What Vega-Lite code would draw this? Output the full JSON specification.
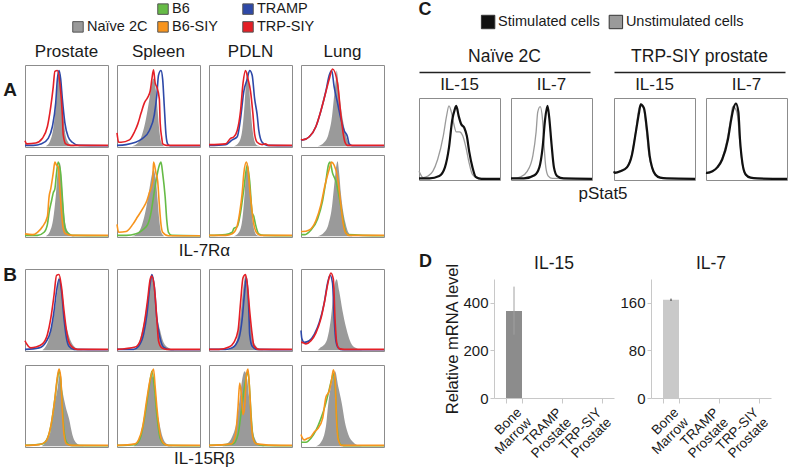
{
"$schema": "https://vega.github.io/schema/vega-lite/v6.json",
"background": "white",
"padding": {"left": 3, "top": 0, "right": 0, "bottom": 0},
"config": {
  "font": "Liberation Sans",
  "view": {"stroke": "#8c8c8c", "strokeWidth": 1},
  "text": {"color": "#1a1a1a"},
  "title": {"font": "Liberation Sans", "fontWeight": "normal", "color": "#1a1a1a", "fontSize": 17},
  "header": {"labelFont": "Liberation Sans", "labelColor": "#1a1a1a", "titleFont": "Liberation Sans"},
  "axis": {"labelFont": "Liberation Sans", "titleFont": "Liberation Sans", "labelColor": "#1a1a1a", "titleColor": "#1a1a1a", "titleFontWeight": "normal"}
},
"datasets": {
"hA": [
{"t":"Prostate","r":1,"s":"Naïve 2C","x":25,"y":0},{"t":"Prostate","r":1,"s":"Naïve 2C","x":30,"y":6},{"t":"Prostate","r":1,"s":"Naïve 2C","x":34,"y":22},{"t":"Prostate","r":1,"s":"Naïve 2C","x":37,"y":50},{"t":"Prostate","r":1,"s":"Naïve 2C","x":40,"y":88},{"t":"Prostate","r":1,"s":"Naïve 2C","x":42,"y":92},{"t":"Prostate","r":1,"s":"Naïve 2C","x":44,"y":72},{"t":"Prostate","r":1,"s":"Naïve 2C","x":46,"y":42},{"t":"Prostate","r":1,"s":"Naïve 2C","x":48,"y":20},{"t":"Prostate","r":1,"s":"Naïve 2C","x":51,"y":7},{"t":"Prostate","r":1,"s":"Naïve 2C","x":55,"y":2},{"t":"Prostate","r":1,"s":"Naïve 2C","x":60,"y":0},
{"t":"Prostate","r":1,"s":"TRAMP","x":0,"y":1},{"t":"Prostate","r":1,"s":"TRAMP","x":10,"y":1},{"t":"Prostate","r":1,"s":"TRAMP","x":20,"y":3},{"t":"Prostate","r":1,"s":"TRAMP","x":28,"y":10},{"t":"Prostate","r":1,"s":"TRAMP","x":33,"y":25},{"t":"Prostate","r":1,"s":"TRAMP","x":37,"y":55},{"t":"Prostate","r":1,"s":"TRAMP","x":39,"y":85},{"t":"Prostate","r":1,"s":"TRAMP","x":41,"y":96},{"t":"Prostate","r":1,"s":"TRAMP","x":43,"y":85},{"t":"Prostate","r":1,"s":"TRAMP","x":45,"y":60},{"t":"Prostate","r":1,"s":"TRAMP","x":48,"y":30},{"t":"Prostate","r":1,"s":"TRAMP","x":52,"y":12},{"t":"Prostate","r":1,"s":"TRAMP","x":57,"y":5},{"t":"Prostate","r":1,"s":"TRAMP","x":65,"y":1},{"t":"Prostate","r":1,"s":"TRAMP","x":100,"y":0.5},
{"t":"Prostate","r":1,"s":"TRP-SIY","x":0,"y":7},{"t":"Prostate","r":1,"s":"TRP-SIY","x":2,"y":3},{"t":"Prostate","r":1,"s":"TRP-SIY","x":13,"y":4},{"t":"Prostate","r":1,"s":"TRP-SIY","x":21,"y":10},{"t":"Prostate","r":1,"s":"TRP-SIY","x":27,"y":25},{"t":"Prostate","r":1,"s":"TRP-SIY","x":31,"y":50},{"t":"Prostate","r":1,"s":"TRP-SIY","x":34,"y":75},{"t":"Prostate","r":1,"s":"TRP-SIY","x":36,"y":95},{"t":"Prostate","r":1,"s":"TRP-SIY","x":39,"y":96},{"t":"Prostate","r":1,"s":"TRP-SIY","x":42,"y":80},{"t":"Prostate","r":1,"s":"TRP-SIY","x":45,"y":40},{"t":"Prostate","r":1,"s":"TRP-SIY","x":46,"y":15},{"t":"Prostate","r":1,"s":"TRP-SIY","x":49,"y":3},{"t":"Prostate","r":1,"s":"TRP-SIY","x":55,"y":1},{"t":"Prostate","r":1,"s":"TRP-SIY","x":100,"y":1},
{"t":"Spleen","r":1,"s":"Naïve 2C","x":18,"y":0},{"t":"Spleen","r":1,"s":"Naïve 2C","x":25,"y":4},{"t":"Spleen","r":1,"s":"Naïve 2C","x":30,"y":14},{"t":"Spleen","r":1,"s":"Naïve 2C","x":35,"y":35},{"t":"Spleen","r":1,"s":"Naïve 2C","x":39,"y":60},{"t":"Spleen","r":1,"s":"Naïve 2C","x":42,"y":80},{"t":"Spleen","r":1,"s":"Naïve 2C","x":44,"y":86},{"t":"Spleen","r":1,"s":"Naïve 2C","x":47,"y":70},{"t":"Spleen","r":1,"s":"Naïve 2C","x":49,"y":45},{"t":"Spleen","r":1,"s":"Naïve 2C","x":51,"y":20},{"t":"Spleen","r":1,"s":"Naïve 2C","x":53,"y":6},{"t":"Spleen","r":1,"s":"Naïve 2C","x":57,"y":0},
{"t":"Spleen","r":1,"s":"TRAMP","x":0,"y":1},{"t":"Spleen","r":1,"s":"TRAMP","x":11,"y":2},{"t":"Spleen","r":1,"s":"TRAMP","x":31,"y":10},{"t":"Spleen","r":1,"s":"TRAMP","x":39,"y":20},{"t":"Spleen","r":1,"s":"TRAMP","x":45,"y":40},{"t":"Spleen","r":1,"s":"TRAMP","x":48,"y":65},{"t":"Spleen","r":1,"s":"TRAMP","x":50,"y":90},{"t":"Spleen","r":1,"s":"TRAMP","x":53,"y":96},{"t":"Spleen","r":1,"s":"TRAMP","x":55,"y":85},{"t":"Spleen","r":1,"s":"TRAMP","x":57,"y":50},{"t":"Spleen","r":1,"s":"TRAMP","x":59,"y":15},{"t":"Spleen","r":1,"s":"TRAMP","x":61,"y":3},{"t":"Spleen","r":1,"s":"TRAMP","x":64,"y":0.5},{"t":"Spleen","r":1,"s":"TRAMP","x":100,"y":0.5},
{"t":"Spleen","r":1,"s":"TRP-SIY","x":0,"y":17},{"t":"Spleen","r":1,"s":"TRP-SIY","x":2,"y":5},{"t":"Spleen","r":1,"s":"TRP-SIY","x":5,"y":5},{"t":"Spleen","r":1,"s":"TRP-SIY","x":15,"y":8},{"t":"Spleen","r":1,"s":"TRP-SIY","x":21,"y":18},{"t":"Spleen","r":1,"s":"TRP-SIY","x":25,"y":28},{"t":"Spleen","r":1,"s":"TRP-SIY","x":29,"y":42},{"t":"Spleen","r":1,"s":"TRP-SIY","x":33,"y":55},{"t":"Spleen","r":1,"s":"TRP-SIY","x":37,"y":62},{"t":"Spleen","r":1,"s":"TRP-SIY","x":40,"y":70},{"t":"Spleen","r":1,"s":"TRP-SIY","x":42,"y":85},{"t":"Spleen","r":1,"s":"TRP-SIY","x":44,"y":97},{"t":"Spleen","r":1,"s":"TRP-SIY","x":46,"y":80},{"t":"Spleen","r":1,"s":"TRP-SIY","x":48,"y":75},{"t":"Spleen","r":1,"s":"TRP-SIY","x":51,"y":60},{"t":"Spleen","r":1,"s":"TRP-SIY","x":52,"y":30},{"t":"Spleen","r":1,"s":"TRP-SIY","x":54,"y":10},{"t":"Spleen","r":1,"s":"TRP-SIY","x":55,"y":3},{"t":"Spleen","r":1,"s":"TRP-SIY","x":60,"y":1},{"t":"Spleen","r":1,"s":"TRP-SIY","x":100,"y":1},
{"t":"PDLN","r":1,"s":"Naïve 2C","x":30,"y":0},{"t":"PDLN","r":1,"s":"Naïve 2C","x":36,"y":5},{"t":"PDLN","r":1,"s":"Naïve 2C","x":40,"y":20},{"t":"PDLN","r":1,"s":"Naïve 2C","x":43,"y":55},{"t":"PDLN","r":1,"s":"Naïve 2C","x":45,"y":86},{"t":"PDLN","r":1,"s":"Naïve 2C","x":46,"y":94},{"t":"PDLN","r":1,"s":"Naïve 2C","x":48,"y":80},{"t":"PDLN","r":1,"s":"Naïve 2C","x":50,"y":50},{"t":"PDLN","r":1,"s":"Naïve 2C","x":52,"y":25},{"t":"PDLN","r":1,"s":"Naïve 2C","x":54,"y":10},{"t":"PDLN","r":1,"s":"Naïve 2C","x":57,"y":2},{"t":"PDLN","r":1,"s":"Naïve 2C","x":62,"y":0},
{"t":"PDLN","r":1,"s":"TRAMP","x":0,"y":1},{"t":"PDLN","r":1,"s":"TRAMP","x":20,"y":2},{"t":"PDLN","r":1,"s":"TRAMP","x":28,"y":8},{"t":"PDLN","r":1,"s":"TRAMP","x":34,"y":12},{"t":"PDLN","r":1,"s":"TRAMP","x":38,"y":35},{"t":"PDLN","r":1,"s":"TRAMP","x":42,"y":70},{"t":"PDLN","r":1,"s":"TRAMP","x":46,"y":85},{"t":"PDLN","r":1,"s":"TRAMP","x":49,"y":96},{"t":"PDLN","r":1,"s":"TRAMP","x":52,"y":90},{"t":"PDLN","r":1,"s":"TRAMP","x":55,"y":60},{"t":"PDLN","r":1,"s":"TRAMP","x":58,"y":40},{"t":"PDLN","r":1,"s":"TRAMP","x":60,"y":20},{"t":"PDLN","r":1,"s":"TRAMP","x":64,"y":5},{"t":"PDLN","r":1,"s":"TRAMP","x":70,"y":1},{"t":"PDLN","r":1,"s":"TRAMP","x":100,"y":0.5},
{"t":"PDLN","r":1,"s":"TRP-SIY","x":0,"y":2},{"t":"PDLN","r":1,"s":"TRP-SIY","x":20,"y":3},{"t":"PDLN","r":1,"s":"TRP-SIY","x":26,"y":10},{"t":"PDLN","r":1,"s":"TRP-SIY","x":30,"y":12},{"t":"PDLN","r":1,"s":"TRP-SIY","x":34,"y":20},{"t":"PDLN","r":1,"s":"TRP-SIY","x":38,"y":45},{"t":"PDLN","r":1,"s":"TRP-SIY","x":41,"y":80},{"t":"PDLN","r":1,"s":"TRP-SIY","x":44,"y":96},{"t":"PDLN","r":1,"s":"TRP-SIY","x":47,"y":85},{"t":"PDLN","r":1,"s":"TRP-SIY","x":50,"y":70},{"t":"PDLN","r":1,"s":"TRP-SIY","x":53,"y":40},{"t":"PDLN","r":1,"s":"TRP-SIY","x":55,"y":15},{"t":"PDLN","r":1,"s":"TRP-SIY","x":58,"y":5},{"t":"PDLN","r":1,"s":"TRP-SIY","x":64,"y":2},{"t":"PDLN","r":1,"s":"TRP-SIY","x":68,"y":3},{"t":"PDLN","r":1,"s":"TRP-SIY","x":72,"y":1},{"t":"PDLN","r":1,"s":"TRP-SIY","x":100,"y":1},
{"t":"Lung","r":1,"s":"Naïve 2C","x":20,"y":0},{"t":"Lung","r":1,"s":"Naïve 2C","x":28,"y":5},{"t":"Lung","r":1,"s":"Naïve 2C","x":33,"y":15},{"t":"Lung","r":1,"s":"Naïve 2C","x":37,"y":35},{"t":"Lung","r":1,"s":"Naïve 2C","x":40,"y":65},{"t":"Lung","r":1,"s":"Naïve 2C","x":42,"y":85},{"t":"Lung","r":1,"s":"Naïve 2C","x":43,"y":96},{"t":"Lung","r":1,"s":"Naïve 2C","x":45,"y":80},{"t":"Lung","r":1,"s":"Naïve 2C","x":48,"y":50},{"t":"Lung","r":1,"s":"Naïve 2C","x":51,"y":30},{"t":"Lung","r":1,"s":"Naïve 2C","x":54,"y":15},{"t":"Lung","r":1,"s":"Naïve 2C","x":57,"y":5},{"t":"Lung","r":1,"s":"Naïve 2C","x":62,"y":0},
{"t":"Lung","r":1,"s":"TRAMP","x":0,"y":8},{"t":"Lung","r":1,"s":"TRAMP","x":2,"y":8},{"t":"Lung","r":1,"s":"TRAMP","x":10,"y":12},{"t":"Lung","r":1,"s":"TRAMP","x":18,"y":25},{"t":"Lung","r":1,"s":"TRAMP","x":24,"y":45},{"t":"Lung","r":1,"s":"TRAMP","x":30,"y":70},{"t":"Lung","r":1,"s":"TRAMP","x":34,"y":90},{"t":"Lung","r":1,"s":"TRAMP","x":37,"y":96},{"t":"Lung","r":1,"s":"TRAMP","x":40,"y":75},{"t":"Lung","r":1,"s":"TRAMP","x":44,"y":55},{"t":"Lung","r":1,"s":"TRAMP","x":48,"y":35},{"t":"Lung","r":1,"s":"TRAMP","x":52,"y":20},{"t":"Lung","r":1,"s":"TRAMP","x":56,"y":12},{"t":"Lung","r":1,"s":"TRAMP","x":58,"y":3},{"t":"Lung","r":1,"s":"TRAMP","x":62,"y":0.5},{"t":"Lung","r":1,"s":"TRAMP","x":100,"y":0.5},
{"t":"Lung","r":1,"s":"TRP-SIY","x":0,"y":9},{"t":"Lung","r":1,"s":"TRP-SIY","x":2,"y":8},{"t":"Lung","r":1,"s":"TRP-SIY","x":10,"y":12},{"t":"Lung","r":1,"s":"TRP-SIY","x":18,"y":25},{"t":"Lung","r":1,"s":"TRP-SIY","x":24,"y":45},{"t":"Lung","r":1,"s":"TRP-SIY","x":29,"y":65},{"t":"Lung","r":1,"s":"TRP-SIY","x":34,"y":85},{"t":"Lung","r":1,"s":"TRP-SIY","x":38,"y":98},{"t":"Lung","r":1,"s":"TRP-SIY","x":44,"y":80},{"t":"Lung","r":1,"s":"TRP-SIY","x":48,"y":40},{"t":"Lung","r":1,"s":"TRP-SIY","x":51,"y":15},{"t":"Lung","r":1,"s":"TRP-SIY","x":53,"y":5},{"t":"Lung","r":1,"s":"TRP-SIY","x":56,"y":1},{"t":"Lung","r":1,"s":"TRP-SIY","x":100,"y":1},
{"t":"Prostate","r":2,"s":"Naïve 2C","x":25,"y":0},{"t":"Prostate","r":2,"s":"Naïve 2C","x":30,"y":6},{"t":"Prostate","r":2,"s":"Naïve 2C","x":34,"y":22},{"t":"Prostate","r":2,"s":"Naïve 2C","x":37,"y":50},{"t":"Prostate","r":2,"s":"Naïve 2C","x":40,"y":88},{"t":"Prostate","r":2,"s":"Naïve 2C","x":42,"y":93},{"t":"Prostate","r":2,"s":"Naïve 2C","x":44,"y":72},{"t":"Prostate","r":2,"s":"Naïve 2C","x":46,"y":42},{"t":"Prostate","r":2,"s":"Naïve 2C","x":48,"y":20},{"t":"Prostate","r":2,"s":"Naïve 2C","x":51,"y":7},{"t":"Prostate","r":2,"s":"Naïve 2C","x":55,"y":2},{"t":"Prostate","r":2,"s":"Naïve 2C","x":60,"y":0},
{"t":"Prostate","r":2,"s":"B6","x":0,"y":1},{"t":"Prostate","r":2,"s":"B6","x":15,"y":1},{"t":"Prostate","r":2,"s":"B6","x":23,"y":5},{"t":"Prostate","r":2,"s":"B6","x":27,"y":15},{"t":"Prostate","r":2,"s":"B6","x":29,"y":30},{"t":"Prostate","r":2,"s":"B6","x":32,"y":45},{"t":"Prostate","r":2,"s":"B6","x":34,"y":55},{"t":"Prostate","r":2,"s":"B6","x":36,"y":60},{"t":"Prostate","r":2,"s":"B6","x":38,"y":80},{"t":"Prostate","r":2,"s":"B6","x":40,"y":94},{"t":"Prostate","r":2,"s":"B6","x":43,"y":80},{"t":"Prostate","r":2,"s":"B6","x":45,"y":50},{"t":"Prostate","r":2,"s":"B6","x":47,"y":20},{"t":"Prostate","r":2,"s":"B6","x":49,"y":8},{"t":"Prostate","r":2,"s":"B6","x":53,"y":3},{"t":"Prostate","r":2,"s":"B6","x":57,"y":1},{"t":"Prostate","r":2,"s":"B6","x":100,"y":0.5},
{"t":"Prostate","r":2,"s":"B6-SIY","x":0,"y":3},{"t":"Prostate","r":2,"s":"B6-SIY","x":9,"y":2},{"t":"Prostate","r":2,"s":"B6-SIY","x":15,"y":5},{"t":"Prostate","r":2,"s":"B6-SIY","x":21,"y":12},{"t":"Prostate","r":2,"s":"B6-SIY","x":27,"y":25},{"t":"Prostate","r":2,"s":"B6-SIY","x":29,"y":50},{"t":"Prostate","r":2,"s":"B6-SIY","x":31,"y":60},{"t":"Prostate","r":2,"s":"B6-SIY","x":34,"y":80},{"t":"Prostate","r":2,"s":"B6-SIY","x":36,"y":94},{"t":"Prostate","r":2,"s":"B6-SIY","x":38,"y":90},{"t":"Prostate","r":2,"s":"B6-SIY","x":40,"y":88},{"t":"Prostate","r":2,"s":"B6-SIY","x":42,"y":60},{"t":"Prostate","r":2,"s":"B6-SIY","x":44,"y":30},{"t":"Prostate","r":2,"s":"B6-SIY","x":46,"y":10},{"t":"Prostate","r":2,"s":"B6-SIY","x":49,"y":3},{"t":"Prostate","r":2,"s":"B6-SIY","x":57,"y":1},{"t":"Prostate","r":2,"s":"B6-SIY","x":100,"y":1},
{"t":"Spleen","r":2,"s":"Naïve 2C","x":18,"y":0},{"t":"Spleen","r":2,"s":"Naïve 2C","x":25,"y":4},{"t":"Spleen","r":2,"s":"Naïve 2C","x":30,"y":14},{"t":"Spleen","r":2,"s":"Naïve 2C","x":35,"y":35},{"t":"Spleen","r":2,"s":"Naïve 2C","x":39,"y":60},{"t":"Spleen","r":2,"s":"Naïve 2C","x":42,"y":78},{"t":"Spleen","r":2,"s":"Naïve 2C","x":44,"y":84},{"t":"Spleen","r":2,"s":"Naïve 2C","x":47,"y":70},{"t":"Spleen","r":2,"s":"Naïve 2C","x":49,"y":45},{"t":"Spleen","r":2,"s":"Naïve 2C","x":51,"y":20},{"t":"Spleen","r":2,"s":"Naïve 2C","x":53,"y":6},{"t":"Spleen","r":2,"s":"Naïve 2C","x":57,"y":0},
{"t":"Spleen","r":2,"s":"B6","x":0,"y":1},{"t":"Spleen","r":2,"s":"B6","x":11,"y":1},{"t":"Spleen","r":2,"s":"B6","x":23,"y":3},{"t":"Spleen","r":2,"s":"B6","x":31,"y":8},{"t":"Spleen","r":2,"s":"B6","x":37,"y":15},{"t":"Spleen","r":2,"s":"B6","x":41,"y":30},{"t":"Spleen","r":2,"s":"B6","x":44,"y":50},{"t":"Spleen","r":2,"s":"B6","x":47,"y":70},{"t":"Spleen","r":2,"s":"B6","x":51,"y":90},{"t":"Spleen","r":2,"s":"B6","x":53,"y":94},{"t":"Spleen","r":2,"s":"B6","x":55,"y":80},{"t":"Spleen","r":2,"s":"B6","x":58,"y":50},{"t":"Spleen","r":2,"s":"B6","x":60,"y":20},{"t":"Spleen","r":2,"s":"B6","x":62,"y":5},{"t":"Spleen","r":2,"s":"B6","x":66,"y":1},{"t":"Spleen","r":2,"s":"B6","x":100,"y":0.5},
{"t":"Spleen","r":2,"s":"B6-SIY","x":0,"y":15},{"t":"Spleen","r":2,"s":"B6-SIY","x":2,"y":5},{"t":"Spleen","r":2,"s":"B6-SIY","x":11,"y":6},{"t":"Spleen","r":2,"s":"B6-SIY","x":19,"y":15},{"t":"Spleen","r":2,"s":"B6-SIY","x":25,"y":25},{"t":"Spleen","r":2,"s":"B6-SIY","x":31,"y":35},{"t":"Spleen","r":2,"s":"B6-SIY","x":36,"y":45},{"t":"Spleen","r":2,"s":"B6-SIY","x":39,"y":55},{"t":"Spleen","r":2,"s":"B6-SIY","x":43,"y":70},{"t":"Spleen","r":2,"s":"B6-SIY","x":44,"y":94},{"t":"Spleen","r":2,"s":"B6-SIY","x":47,"y":80},{"t":"Spleen","r":2,"s":"B6-SIY","x":49,"y":70},{"t":"Spleen","r":2,"s":"B6-SIY","x":51,"y":40},{"t":"Spleen","r":2,"s":"B6-SIY","x":53,"y":15},{"t":"Spleen","r":2,"s":"B6-SIY","x":55,"y":5},{"t":"Spleen","r":2,"s":"B6-SIY","x":62,"y":0.5},{"t":"Spleen","r":2,"s":"B6-SIY","x":100,"y":0.5},
{"t":"PDLN","r":2,"s":"Naïve 2C","x":30,"y":0},{"t":"PDLN","r":2,"s":"Naïve 2C","x":36,"y":5},{"t":"PDLN","r":2,"s":"Naïve 2C","x":40,"y":20},{"t":"PDLN","r":2,"s":"Naïve 2C","x":43,"y":55},{"t":"PDLN","r":2,"s":"Naïve 2C","x":45,"y":86},{"t":"PDLN","r":2,"s":"Naïve 2C","x":46,"y":93},{"t":"PDLN","r":2,"s":"Naïve 2C","x":48,"y":80},{"t":"PDLN","r":2,"s":"Naïve 2C","x":50,"y":50},{"t":"PDLN","r":2,"s":"Naïve 2C","x":52,"y":25},{"t":"PDLN","r":2,"s":"Naïve 2C","x":54,"y":10},{"t":"PDLN","r":2,"s":"Naïve 2C","x":57,"y":2},{"t":"PDLN","r":2,"s":"Naïve 2C","x":62,"y":0},
{"t":"PDLN","r":2,"s":"B6","x":0,"y":1},{"t":"PDLN","r":2,"s":"B6","x":20,"y":2},{"t":"PDLN","r":2,"s":"B6","x":28,"y":5},{"t":"PDLN","r":2,"s":"B6","x":30,"y":10},{"t":"PDLN","r":2,"s":"B6","x":34,"y":12},{"t":"PDLN","r":2,"s":"B6","x":38,"y":30},{"t":"PDLN","r":2,"s":"B6","x":42,"y":60},{"t":"PDLN","r":2,"s":"B6","x":46,"y":90},{"t":"PDLN","r":2,"s":"B6","x":49,"y":70},{"t":"PDLN","r":2,"s":"B6","x":52,"y":30},{"t":"PDLN","r":2,"s":"B6","x":54,"y":25},{"t":"PDLN","r":2,"s":"B6","x":56,"y":15},{"t":"PDLN","r":2,"s":"B6","x":60,"y":3},{"t":"PDLN","r":2,"s":"B6","x":66,"y":1},{"t":"PDLN","r":2,"s":"B6","x":100,"y":0.5},
{"t":"PDLN","r":2,"s":"B6-SIY","x":0,"y":1},{"t":"PDLN","r":2,"s":"B6-SIY","x":20,"y":1},{"t":"PDLN","r":2,"s":"B6-SIY","x":28,"y":3},{"t":"PDLN","r":2,"s":"B6-SIY","x":33,"y":10},{"t":"PDLN","r":2,"s":"B6-SIY","x":37,"y":30},{"t":"PDLN","r":2,"s":"B6-SIY","x":40,"y":55},{"t":"PDLN","r":2,"s":"B6-SIY","x":42,"y":80},{"t":"PDLN","r":2,"s":"B6-SIY","x":45,"y":94},{"t":"PDLN","r":2,"s":"B6-SIY","x":47,"y":85},{"t":"PDLN","r":2,"s":"B6-SIY","x":49,"y":60},{"t":"PDLN","r":2,"s":"B6-SIY","x":51,"y":40},{"t":"PDLN","r":2,"s":"B6-SIY","x":54,"y":15},{"t":"PDLN","r":2,"s":"B6-SIY","x":57,"y":5},{"t":"PDLN","r":2,"s":"B6-SIY","x":62,"y":1},{"t":"PDLN","r":2,"s":"B6-SIY","x":100,"y":1},
{"t":"Lung","r":2,"s":"Naïve 2C","x":20,"y":0},{"t":"Lung","r":2,"s":"Naïve 2C","x":28,"y":5},{"t":"Lung","r":2,"s":"Naïve 2C","x":33,"y":15},{"t":"Lung","r":2,"s":"Naïve 2C","x":37,"y":35},{"t":"Lung","r":2,"s":"Naïve 2C","x":40,"y":65},{"t":"Lung","r":2,"s":"Naïve 2C","x":42,"y":85},{"t":"Lung","r":2,"s":"Naïve 2C","x":44,"y":95},{"t":"Lung","r":2,"s":"Naïve 2C","x":46,"y":80},{"t":"Lung","r":2,"s":"Naïve 2C","x":48,"y":55},{"t":"Lung","r":2,"s":"Naïve 2C","x":51,"y":30},{"t":"Lung","r":2,"s":"Naïve 2C","x":54,"y":15},{"t":"Lung","r":2,"s":"Naïve 2C","x":57,"y":5},{"t":"Lung","r":2,"s":"Naïve 2C","x":62,"y":0},
{"t":"Lung","r":2,"s":"B6","x":0,"y":2},{"t":"Lung","r":2,"s":"B6","x":4,"y":2},{"t":"Lung","r":2,"s":"B6","x":12,"y":8},{"t":"Lung","r":2,"s":"B6","x":20,"y":22},{"t":"Lung","r":2,"s":"B6","x":26,"y":45},{"t":"Lung","r":2,"s":"B6","x":30,"y":70},{"t":"Lung","r":2,"s":"B6","x":33,"y":90},{"t":"Lung","r":2,"s":"B6","x":35,"y":94},{"t":"Lung","r":2,"s":"B6","x":38,"y":80},{"t":"Lung","r":2,"s":"B6","x":42,"y":70},{"t":"Lung","r":2,"s":"B6","x":46,"y":50},{"t":"Lung","r":2,"s":"B6","x":50,"y":25},{"t":"Lung","r":2,"s":"B6","x":53,"y":8},{"t":"Lung","r":2,"s":"B6","x":56,"y":2},{"t":"Lung","r":2,"s":"B6","x":100,"y":0.5},
{"t":"Lung","r":2,"s":"B6-SIY","x":0,"y":6},{"t":"Lung","r":2,"s":"B6-SIY","x":2,"y":6},{"t":"Lung","r":2,"s":"B6-SIY","x":10,"y":8},{"t":"Lung","r":2,"s":"B6-SIY","x":18,"y":20},{"t":"Lung","r":2,"s":"B6-SIY","x":24,"y":40},{"t":"Lung","r":2,"s":"B6-SIY","x":29,"y":65},{"t":"Lung","r":2,"s":"B6-SIY","x":34,"y":85},{"t":"Lung","r":2,"s":"B6-SIY","x":37,"y":94},{"t":"Lung","r":2,"s":"B6-SIY","x":40,"y":90},{"t":"Lung","r":2,"s":"B6-SIY","x":44,"y":75},{"t":"Lung","r":2,"s":"B6-SIY","x":48,"y":40},{"t":"Lung","r":2,"s":"B6-SIY","x":51,"y":15},{"t":"Lung","r":2,"s":"B6-SIY","x":54,"y":4},{"t":"Lung","r":2,"s":"B6-SIY","x":58,"y":1},{"t":"Lung","r":2,"s":"B6-SIY","x":100,"y":1}
],
"hB": [
{"t":"Prostate","r":1,"s":"Naïve 2C","x":21,"y":0},{"t":"Prostate","r":1,"s":"Naïve 2C","x":29,"y":15},{"t":"Prostate","r":1,"s":"Naïve 2C","x":35,"y":45},{"t":"Prostate","r":1,"s":"Naïve 2C","x":39,"y":75},{"t":"Prostate","r":1,"s":"Naïve 2C","x":41,"y":93},{"t":"Prostate","r":1,"s":"Naïve 2C","x":45,"y":70},{"t":"Prostate","r":1,"s":"Naïve 2C","x":48,"y":40},{"t":"Prostate","r":1,"s":"Naïve 2C","x":51,"y":25},{"t":"Prostate","r":1,"s":"Naïve 2C","x":55,"y":12},{"t":"Prostate","r":1,"s":"Naïve 2C","x":59,"y":5},{"t":"Prostate","r":1,"s":"Naïve 2C","x":65,"y":1},{"t":"Prostate","r":1,"s":"Naïve 2C","x":70,"y":0},
{"t":"Prostate","r":1,"s":"TRAMP","x":0,"y":1},{"t":"Prostate","r":1,"s":"TRAMP","x":17,"y":3},{"t":"Prostate","r":1,"s":"TRAMP","x":25,"y":10},{"t":"Prostate","r":1,"s":"TRAMP","x":31,"y":25},{"t":"Prostate","r":1,"s":"TRAMP","x":35,"y":50},{"t":"Prostate","r":1,"s":"TRAMP","x":38,"y":75},{"t":"Prostate","r":1,"s":"TRAMP","x":41,"y":90},{"t":"Prostate","r":1,"s":"TRAMP","x":44,"y":75},{"t":"Prostate","r":1,"s":"TRAMP","x":47,"y":40},{"t":"Prostate","r":1,"s":"TRAMP","x":50,"y":15},{"t":"Prostate","r":1,"s":"TRAMP","x":53,"y":5},{"t":"Prostate","r":1,"s":"TRAMP","x":59,"y":1},{"t":"Prostate","r":1,"s":"TRAMP","x":100,"y":0.5},
{"t":"Prostate","r":1,"s":"TRP-SIY","x":0,"y":12},{"t":"Prostate","r":1,"s":"TRP-SIY","x":2,"y":8},{"t":"Prostate","r":1,"s":"TRP-SIY","x":7,"y":3},{"t":"Prostate","r":1,"s":"TRP-SIY","x":13,"y":4},{"t":"Prostate","r":1,"s":"TRP-SIY","x":21,"y":8},{"t":"Prostate","r":1,"s":"TRP-SIY","x":27,"y":20},{"t":"Prostate","r":1,"s":"TRP-SIY","x":31,"y":40},{"t":"Prostate","r":1,"s":"TRP-SIY","x":35,"y":70},{"t":"Prostate","r":1,"s":"TRP-SIY","x":38,"y":95},{"t":"Prostate","r":1,"s":"TRP-SIY","x":41,"y":96},{"t":"Prostate","r":1,"s":"TRP-SIY","x":44,"y":80},{"t":"Prostate","r":1,"s":"TRP-SIY","x":47,"y":50},{"t":"Prostate","r":1,"s":"TRP-SIY","x":50,"y":25},{"t":"Prostate","r":1,"s":"TRP-SIY","x":53,"y":10},{"t":"Prostate","r":1,"s":"TRP-SIY","x":57,"y":4},{"t":"Prostate","r":1,"s":"TRP-SIY","x":63,"y":1},{"t":"Prostate","r":1,"s":"TRP-SIY","x":100,"y":1},
{"t":"Spleen","r":1,"s":"Naïve 2C","x":20,"y":0},{"t":"Spleen","r":1,"s":"Naïve 2C","x":28,"y":15},{"t":"Spleen","r":1,"s":"Naïve 2C","x":34,"y":45},{"t":"Spleen","r":1,"s":"Naïve 2C","x":39,"y":80},{"t":"Spleen","r":1,"s":"Naïve 2C","x":42,"y":93},{"t":"Spleen","r":1,"s":"Naïve 2C","x":45,"y":75},{"t":"Spleen","r":1,"s":"Naïve 2C","x":48,"y":45},{"t":"Spleen","r":1,"s":"Naïve 2C","x":52,"y":25},{"t":"Spleen","r":1,"s":"Naïve 2C","x":56,"y":10},{"t":"Spleen","r":1,"s":"Naïve 2C","x":62,"y":3},{"t":"Spleen","r":1,"s":"Naïve 2C","x":69,"y":0},
{"t":"Spleen","r":1,"s":"TRAMP","x":0,"y":1},{"t":"Spleen","r":1,"s":"TRAMP","x":20,"y":1},{"t":"Spleen","r":1,"s":"TRAMP","x":26,"y":5},{"t":"Spleen","r":1,"s":"TRAMP","x":32,"y":20},{"t":"Spleen","r":1,"s":"TRAMP","x":36,"y":45},{"t":"Spleen","r":1,"s":"TRAMP","x":40,"y":85},{"t":"Spleen","r":1,"s":"TRAMP","x":42,"y":96},{"t":"Spleen","r":1,"s":"TRAMP","x":45,"y":80},{"t":"Spleen","r":1,"s":"TRAMP","x":48,"y":40},{"t":"Spleen","r":1,"s":"TRAMP","x":52,"y":15},{"t":"Spleen","r":1,"s":"TRAMP","x":56,"y":4},{"t":"Spleen","r":1,"s":"TRAMP","x":65,"y":0.5},{"t":"Spleen","r":1,"s":"TRAMP","x":100,"y":0.5},
{"t":"Spleen","r":1,"s":"TRP-SIY","x":0,"y":1},{"t":"Spleen","r":1,"s":"TRP-SIY","x":22,"y":4},{"t":"Spleen","r":1,"s":"TRP-SIY","x":28,"y":12},{"t":"Spleen","r":1,"s":"TRP-SIY","x":33,"y":35},{"t":"Spleen","r":1,"s":"TRP-SIY","x":37,"y":65},{"t":"Spleen","r":1,"s":"TRP-SIY","x":40,"y":90},{"t":"Spleen","r":1,"s":"TRP-SIY","x":42,"y":94},{"t":"Spleen","r":1,"s":"TRP-SIY","x":45,"y":80},{"t":"Spleen","r":1,"s":"TRP-SIY","x":48,"y":40},{"t":"Spleen","r":1,"s":"TRP-SIY","x":50,"y":12},{"t":"Spleen","r":1,"s":"TRP-SIY","x":54,"y":3},{"t":"Spleen","r":1,"s":"TRP-SIY","x":60,"y":1},{"t":"Spleen","r":1,"s":"TRP-SIY","x":100,"y":1},
{"t":"PDLN","r":1,"s":"Naïve 2C","x":22,"y":0},{"t":"PDLN","r":1,"s":"Naïve 2C","x":28,"y":3},{"t":"PDLN","r":1,"s":"Naïve 2C","x":34,"y":15},{"t":"PDLN","r":1,"s":"Naïve 2C","x":38,"y":45},{"t":"PDLN","r":1,"s":"Naïve 2C","x":42,"y":85},{"t":"PDLN","r":1,"s":"Naïve 2C","x":44,"y":95},{"t":"PDLN","r":1,"s":"Naïve 2C","x":46,"y":80},{"t":"PDLN","r":1,"s":"Naïve 2C","x":49,"y":45},{"t":"PDLN","r":1,"s":"Naïve 2C","x":52,"y":20},{"t":"PDLN","r":1,"s":"Naïve 2C","x":56,"y":6},{"t":"PDLN","r":1,"s":"Naïve 2C","x":62,"y":1},{"t":"PDLN","r":1,"s":"Naïve 2C","x":66,"y":0},
{"t":"PDLN","r":1,"s":"TRAMP","x":0,"y":1},{"t":"PDLN","r":1,"s":"TRAMP","x":20,"y":1},{"t":"PDLN","r":1,"s":"TRAMP","x":28,"y":3},{"t":"PDLN","r":1,"s":"TRAMP","x":36,"y":15},{"t":"PDLN","r":1,"s":"TRAMP","x":40,"y":40},{"t":"PDLN","r":1,"s":"TRAMP","x":43,"y":75},{"t":"PDLN","r":1,"s":"TRAMP","x":45,"y":92},{"t":"PDLN","r":1,"s":"TRAMP","x":48,"y":50},{"t":"PDLN","r":1,"s":"TRAMP","x":49,"y":20},{"t":"PDLN","r":1,"s":"TRAMP","x":52,"y":5},{"t":"PDLN","r":1,"s":"TRAMP","x":58,"y":1},{"t":"PDLN","r":1,"s":"TRAMP","x":100,"y":0.5},
{"t":"PDLN","r":1,"s":"TRP-SIY","x":0,"y":1},{"t":"PDLN","r":1,"s":"TRP-SIY","x":12,"y":1},{"t":"PDLN","r":1,"s":"TRP-SIY","x":24,"y":4},{"t":"PDLN","r":1,"s":"TRP-SIY","x":30,"y":10},{"t":"PDLN","r":1,"s":"TRP-SIY","x":35,"y":25},{"t":"PDLN","r":1,"s":"TRP-SIY","x":38,"y":60},{"t":"PDLN","r":1,"s":"TRP-SIY","x":41,"y":92},{"t":"PDLN","r":1,"s":"TRP-SIY","x":44,"y":96},{"t":"PDLN","r":1,"s":"TRP-SIY","x":46,"y":85},{"t":"PDLN","r":1,"s":"TRP-SIY","x":49,"y":50},{"t":"PDLN","r":1,"s":"TRP-SIY","x":52,"y":20},{"t":"PDLN","r":1,"s":"TRP-SIY","x":54,"y":6},{"t":"PDLN","r":1,"s":"TRP-SIY","x":60,"y":1},{"t":"PDLN","r":1,"s":"TRP-SIY","x":100,"y":1},
{"t":"Lung","r":1,"s":"Naïve 2C","x":20,"y":0},{"t":"Lung","r":1,"s":"Naïve 2C","x":22,"y":2},{"t":"Lung","r":1,"s":"Naïve 2C","x":30,"y":10},{"t":"Lung","r":1,"s":"Naïve 2C","x":36,"y":40},{"t":"Lung","r":1,"s":"Naïve 2C","x":40,"y":80},{"t":"Lung","r":1,"s":"Naïve 2C","x":43,"y":90},{"t":"Lung","r":1,"s":"Naïve 2C","x":46,"y":75},{"t":"Lung","r":1,"s":"Naïve 2C","x":50,"y":50},{"t":"Lung","r":1,"s":"Naïve 2C","x":54,"y":30},{"t":"Lung","r":1,"s":"Naïve 2C","x":58,"y":15},{"t":"Lung","r":1,"s":"Naïve 2C","x":62,"y":6},{"t":"Lung","r":1,"s":"Naïve 2C","x":68,"y":2},{"t":"Lung","r":1,"s":"Naïve 2C","x":74,"y":0},
{"t":"Lung","r":1,"s":"TRAMP","x":0,"y":25},{"t":"Lung","r":1,"s":"TRAMP","x":1,"y":15},{"t":"Lung","r":1,"s":"TRAMP","x":4,"y":10},{"t":"Lung","r":1,"s":"TRAMP","x":10,"y":12},{"t":"Lung","r":1,"s":"TRAMP","x":16,"y":20},{"t":"Lung","r":1,"s":"TRAMP","x":22,"y":35},{"t":"Lung","r":1,"s":"TRAMP","x":28,"y":60},{"t":"Lung","r":1,"s":"TRAMP","x":32,"y":85},{"t":"Lung","r":1,"s":"TRAMP","x":35,"y":95},{"t":"Lung","r":1,"s":"TRAMP","x":38,"y":85},{"t":"Lung","r":1,"s":"TRAMP","x":40,"y":40},{"t":"Lung","r":1,"s":"TRAMP","x":42,"y":12},{"t":"Lung","r":1,"s":"TRAMP","x":45,"y":3},{"t":"Lung","r":1,"s":"TRAMP","x":50,"y":0.5},{"t":"Lung","r":1,"s":"TRAMP","x":100,"y":0.5},
{"t":"Lung","r":1,"s":"TRP-SIY","x":0,"y":10},{"t":"Lung","r":1,"s":"TRP-SIY","x":1,"y":10},{"t":"Lung","r":1,"s":"TRP-SIY","x":6,"y":8},{"t":"Lung","r":1,"s":"TRP-SIY","x":12,"y":12},{"t":"Lung","r":1,"s":"TRP-SIY","x":18,"y":22},{"t":"Lung","r":1,"s":"TRP-SIY","x":24,"y":40},{"t":"Lung","r":1,"s":"TRP-SIY","x":29,"y":65},{"t":"Lung","r":1,"s":"TRP-SIY","x":33,"y":88},{"t":"Lung","r":1,"s":"TRP-SIY","x":36,"y":98},{"t":"Lung","r":1,"s":"TRP-SIY","x":39,"y":90},{"t":"Lung","r":1,"s":"TRP-SIY","x":41,"y":40},{"t":"Lung","r":1,"s":"TRP-SIY","x":43,"y":10},{"t":"Lung","r":1,"s":"TRP-SIY","x":46,"y":2},{"t":"Lung","r":1,"s":"TRP-SIY","x":52,"y":1},{"t":"Lung","r":1,"s":"TRP-SIY","x":100,"y":1},
{"t":"Prostate","r":2,"s":"Naïve 2C","x":20,"y":0},{"t":"Prostate","r":2,"s":"Naïve 2C","x":25,"y":5},{"t":"Prostate","r":2,"s":"Naïve 2C","x":31,"y":20},{"t":"Prostate","r":2,"s":"Naïve 2C","x":36,"y":55},{"t":"Prostate","r":2,"s":"Naïve 2C","x":40,"y":80},{"t":"Prostate","r":2,"s":"Naïve 2C","x":41,"y":90},{"t":"Prostate","r":2,"s":"Naïve 2C","x":45,"y":70},{"t":"Prostate","r":2,"s":"Naïve 2C","x":49,"y":50},{"t":"Prostate","r":2,"s":"Naïve 2C","x":53,"y":35},{"t":"Prostate","r":2,"s":"Naïve 2C","x":57,"y":15},{"t":"Prostate","r":2,"s":"Naïve 2C","x":61,"y":5},{"t":"Prostate","r":2,"s":"Naïve 2C","x":67,"y":1},{"t":"Prostate","r":2,"s":"Naïve 2C","x":72,"y":0},
{"t":"Prostate","r":2,"s":"B6","x":0,"y":1},{"t":"Prostate","r":2,"s":"B6","x":21,"y":3},{"t":"Prostate","r":2,"s":"B6","x":27,"y":10},{"t":"Prostate","r":2,"s":"B6","x":32,"y":30},{"t":"Prostate","r":2,"s":"B6","x":36,"y":60},{"t":"Prostate","r":2,"s":"B6","x":39,"y":85},{"t":"Prostate","r":2,"s":"B6","x":41,"y":95},{"t":"Prostate","r":2,"s":"B6","x":43,"y":85},{"t":"Prostate","r":2,"s":"B6","x":45,"y":50},{"t":"Prostate","r":2,"s":"B6","x":47,"y":20},{"t":"Prostate","r":2,"s":"B6","x":50,"y":5},{"t":"Prostate","r":2,"s":"B6","x":55,"y":1},{"t":"Prostate","r":2,"s":"B6","x":100,"y":0.5},
{"t":"Prostate","r":2,"s":"B6-SIY","x":0,"y":1},{"t":"Prostate","r":2,"s":"B6-SIY","x":17,"y":2},{"t":"Prostate","r":2,"s":"B6-SIY","x":25,"y":6},{"t":"Prostate","r":2,"s":"B6-SIY","x":31,"y":25},{"t":"Prostate","r":2,"s":"B6-SIY","x":36,"y":60},{"t":"Prostate","r":2,"s":"B6-SIY","x":39,"y":88},{"t":"Prostate","r":2,"s":"B6-SIY","x":41,"y":98},{"t":"Prostate","r":2,"s":"B6-SIY","x":43,"y":88},{"t":"Prostate","r":2,"s":"B6-SIY","x":45,"y":45},{"t":"Prostate","r":2,"s":"B6-SIY","x":47,"y":15},{"t":"Prostate","r":2,"s":"B6-SIY","x":50,"y":3},{"t":"Prostate","r":2,"s":"B6-SIY","x":57,"y":1},{"t":"Prostate","r":2,"s":"B6-SIY","x":100,"y":1},
{"t":"Spleen","r":2,"s":"Naïve 2C","x":20,"y":0},{"t":"Spleen","r":2,"s":"Naïve 2C","x":22,"y":2},{"t":"Spleen","r":2,"s":"Naïve 2C","x":28,"y":10},{"t":"Spleen","r":2,"s":"Naïve 2C","x":33,"y":35},{"t":"Spleen","r":2,"s":"Naïve 2C","x":38,"y":70},{"t":"Spleen","r":2,"s":"Naïve 2C","x":41,"y":90},{"t":"Spleen","r":2,"s":"Naïve 2C","x":44,"y":85},{"t":"Spleen","r":2,"s":"Naïve 2C","x":46,"y":60},{"t":"Spleen","r":2,"s":"Naïve 2C","x":50,"y":35},{"t":"Spleen","r":2,"s":"Naïve 2C","x":54,"y":15},{"t":"Spleen","r":2,"s":"Naïve 2C","x":60,"y":3},{"t":"Spleen","r":2,"s":"Naïve 2C","x":67,"y":0},
{"t":"Spleen","r":2,"s":"B6","x":0,"y":1},{"t":"Spleen","r":2,"s":"B6","x":22,"y":2},{"t":"Spleen","r":2,"s":"B6","x":28,"y":10},{"t":"Spleen","r":2,"s":"B6","x":33,"y":35},{"t":"Spleen","r":2,"s":"B6","x":38,"y":70},{"t":"Spleen","r":2,"s":"B6","x":41,"y":90},{"t":"Spleen","r":2,"s":"B6","x":42,"y":95},{"t":"Spleen","r":2,"s":"B6","x":45,"y":75},{"t":"Spleen","r":2,"s":"B6","x":48,"y":40},{"t":"Spleen","r":2,"s":"B6","x":52,"y":10},{"t":"Spleen","r":2,"s":"B6","x":56,"y":3},{"t":"Spleen","r":2,"s":"B6","x":62,"y":1},{"t":"Spleen","r":2,"s":"B6","x":100,"y":0.5},
{"t":"Spleen","r":2,"s":"B6-SIY","x":0,"y":1},{"t":"Spleen","r":2,"s":"B6-SIY","x":22,"y":3},{"t":"Spleen","r":2,"s":"B6-SIY","x":26,"y":8},{"t":"Spleen","r":2,"s":"B6-SIY","x":31,"y":25},{"t":"Spleen","r":2,"s":"B6-SIY","x":36,"y":60},{"t":"Spleen","r":2,"s":"B6-SIY","x":40,"y":85},{"t":"Spleen","r":2,"s":"B6-SIY","x":44,"y":98},{"t":"Spleen","r":2,"s":"B6-SIY","x":46,"y":75},{"t":"Spleen","r":2,"s":"B6-SIY","x":48,"y":50},{"t":"Spleen","r":2,"s":"B6-SIY","x":52,"y":15},{"t":"Spleen","r":2,"s":"B6-SIY","x":56,"y":4},{"t":"Spleen","r":2,"s":"B6-SIY","x":62,"y":1},{"t":"Spleen","r":2,"s":"B6-SIY","x":100,"y":1},
{"t":"PDLN","r":2,"s":"Naïve 2C","x":16,"y":0},{"t":"PDLN","r":2,"s":"Naïve 2C","x":20,"y":2},{"t":"PDLN","r":2,"s":"Naïve 2C","x":27,"y":10},{"t":"PDLN","r":2,"s":"Naïve 2C","x":33,"y":30},{"t":"PDLN","r":2,"s":"Naïve 2C","x":37,"y":60},{"t":"PDLN","r":2,"s":"Naïve 2C","x":40,"y":85},{"t":"PDLN","r":2,"s":"Naïve 2C","x":43,"y":95},{"t":"PDLN","r":2,"s":"Naïve 2C","x":46,"y":85},{"t":"PDLN","r":2,"s":"Naïve 2C","x":49,"y":55},{"t":"PDLN","r":2,"s":"Naïve 2C","x":52,"y":25},{"t":"PDLN","r":2,"s":"Naïve 2C","x":56,"y":8},{"t":"PDLN","r":2,"s":"Naïve 2C","x":61,"y":2},{"t":"PDLN","r":2,"s":"Naïve 2C","x":67,"y":0},
{"t":"PDLN","r":2,"s":"B6","x":0,"y":1},{"t":"PDLN","r":2,"s":"B6","x":29,"y":3},{"t":"PDLN","r":2,"s":"B6","x":35,"y":15},{"t":"PDLN","r":2,"s":"B6","x":39,"y":45},{"t":"PDLN","r":2,"s":"B6","x":42,"y":70},{"t":"PDLN","r":2,"s":"B6","x":45,"y":88},{"t":"PDLN","r":2,"s":"B6","x":47,"y":95},{"t":"PDLN","r":2,"s":"B6","x":49,"y":70},{"t":"PDLN","r":2,"s":"B6","x":51,"y":35},{"t":"PDLN","r":2,"s":"B6","x":53,"y":12},{"t":"PDLN","r":2,"s":"B6","x":57,"y":3},{"t":"PDLN","r":2,"s":"B6","x":65,"y":1},{"t":"PDLN","r":2,"s":"B6","x":100,"y":0.5},
{"t":"PDLN","r":2,"s":"B6-SIY","x":0,"y":1},{"t":"PDLN","r":2,"s":"B6-SIY","x":27,"y":3},{"t":"PDLN","r":2,"s":"B6-SIY","x":32,"y":15},{"t":"PDLN","r":2,"s":"B6-SIY","x":35,"y":50},{"t":"PDLN","r":2,"s":"B6-SIY","x":37,"y":80},{"t":"PDLN","r":2,"s":"B6-SIY","x":39,"y":65},{"t":"PDLN","r":2,"s":"B6-SIY","x":41,"y":40},{"t":"PDLN","r":2,"s":"B6-SIY","x":43,"y":50},{"t":"PDLN","r":2,"s":"B6-SIY","x":45,"y":90},{"t":"PDLN","r":2,"s":"B6-SIY","x":47,"y":98},{"t":"PDLN","r":2,"s":"B6-SIY","x":49,"y":70},{"t":"PDLN","r":2,"s":"B6-SIY","x":51,"y":30},{"t":"PDLN","r":2,"s":"B6-SIY","x":53,"y":10},{"t":"PDLN","r":2,"s":"B6-SIY","x":57,"y":3},{"t":"PDLN","r":2,"s":"B6-SIY","x":86,"y":1},{"t":"PDLN","r":2,"s":"B6-SIY","x":100,"y":1},
{"t":"Lung","r":2,"s":"Naïve 2C","x":18,"y":0},{"t":"Lung","r":2,"s":"Naïve 2C","x":24,"y":5},{"t":"Lung","r":2,"s":"Naïve 2C","x":30,"y":25},{"t":"Lung","r":2,"s":"Naïve 2C","x":33,"y":55},{"t":"Lung","r":2,"s":"Naïve 2C","x":38,"y":85},{"t":"Lung","r":2,"s":"Naïve 2C","x":41,"y":95},{"t":"Lung","r":2,"s":"Naïve 2C","x":45,"y":75},{"t":"Lung","r":2,"s":"Naïve 2C","x":49,"y":55},{"t":"Lung","r":2,"s":"Naïve 2C","x":53,"y":30},{"t":"Lung","r":2,"s":"Naïve 2C","x":57,"y":15},{"t":"Lung","r":2,"s":"Naïve 2C","x":63,"y":5},{"t":"Lung","r":2,"s":"Naïve 2C","x":69,"y":1},{"t":"Lung","r":2,"s":"Naïve 2C","x":74,"y":0},
{"t":"Lung","r":2,"s":"B6","x":0,"y":5},{"t":"Lung","r":2,"s":"B6","x":2,"y":5},{"t":"Lung","r":2,"s":"B6","x":6,"y":5},{"t":"Lung","r":2,"s":"B6","x":12,"y":10},{"t":"Lung","r":2,"s":"B6","x":18,"y":20},{"t":"Lung","r":2,"s":"B6","x":24,"y":35},{"t":"Lung","r":2,"s":"B6","x":30,"y":55},{"t":"Lung","r":2,"s":"B6","x":34,"y":72},{"t":"Lung","r":2,"s":"B6","x":37,"y":85},{"t":"Lung","r":2,"s":"B6","x":39,"y":92},{"t":"Lung","r":2,"s":"B6","x":41,"y":80},{"t":"Lung","r":2,"s":"B6","x":43,"y":35},{"t":"Lung","r":2,"s":"B6","x":45,"y":10},{"t":"Lung","r":2,"s":"B6","x":48,"y":2},{"t":"Lung","r":2,"s":"B6","x":55,"y":0.5},{"t":"Lung","r":2,"s":"B6","x":100,"y":0.5},
{"t":"Lung","r":2,"s":"B6-SIY","x":0,"y":15},{"t":"Lung","r":2,"s":"B6-SIY","x":1,"y":12},{"t":"Lung","r":2,"s":"B6-SIY","x":4,"y":8},{"t":"Lung","r":2,"s":"B6-SIY","x":8,"y":10},{"t":"Lung","r":2,"s":"B6-SIY","x":12,"y":12},{"t":"Lung","r":2,"s":"B6-SIY","x":16,"y":18},{"t":"Lung","r":2,"s":"B6-SIY","x":20,"y":22},{"t":"Lung","r":2,"s":"B6-SIY","x":26,"y":35},{"t":"Lung","r":2,"s":"B6-SIY","x":30,"y":62},{"t":"Lung","r":2,"s":"B6-SIY","x":34,"y":70},{"t":"Lung","r":2,"s":"B6-SIY","x":37,"y":85},{"t":"Lung","r":2,"s":"B6-SIY","x":39,"y":97},{"t":"Lung","r":2,"s":"B6-SIY","x":41,"y":85},{"t":"Lung","r":2,"s":"B6-SIY","x":43,"y":30},{"t":"Lung","r":2,"s":"B6-SIY","x":45,"y":8},{"t":"Lung","r":2,"s":"B6-SIY","x":49,"y":1},{"t":"Lung","r":2,"s":"B6-SIY","x":100,"y":1}
],
"hC": [
{"g":"Naïve 2C","c":"IL-15","s":"Unstimulated cells","x":0,"y":10},{"g":"Naïve 2C","c":"IL-15","s":"Unstimulated cells","x":1,"y":8},{"g":"Naïve 2C","c":"IL-15","s":"Unstimulated cells","x":5,"y":2},{"g":"Naïve 2C","c":"IL-15","s":"Unstimulated cells","x":11,"y":4},{"g":"Naïve 2C","c":"IL-15","s":"Unstimulated cells","x":17,"y":10},{"g":"Naïve 2C","c":"IL-15","s":"Unstimulated cells","x":23,"y":25},{"g":"Naïve 2C","c":"IL-15","s":"Unstimulated cells","x":30,"y":55},{"g":"Naïve 2C","c":"IL-15","s":"Unstimulated cells","x":34,"y":80},{"g":"Naïve 2C","c":"IL-15","s":"Unstimulated cells","x":37,"y":93},{"g":"Naïve 2C","c":"IL-15","s":"Unstimulated cells","x":40,"y":85},{"g":"Naïve 2C","c":"IL-15","s":"Unstimulated cells","x":43,"y":70},{"g":"Naïve 2C","c":"IL-15","s":"Unstimulated cells","x":46,"y":60},{"g":"Naïve 2C","c":"IL-15","s":"Unstimulated cells","x":50,"y":60},{"g":"Naïve 2C","c":"IL-15","s":"Unstimulated cells","x":54,"y":55},{"g":"Naïve 2C","c":"IL-15","s":"Unstimulated cells","x":58,"y":40},{"g":"Naïve 2C","c":"IL-15","s":"Unstimulated cells","x":62,"y":20},{"g":"Naïve 2C","c":"IL-15","s":"Unstimulated cells","x":66,"y":6},{"g":"Naïve 2C","c":"IL-15","s":"Unstimulated cells","x":73,"y":1},{"g":"Naïve 2C","c":"IL-15","s":"Unstimulated cells","x":100,"y":0.5},
{"g":"Naïve 2C","c":"IL-7","s":"Unstimulated cells","x":0,"y":1},{"g":"Naïve 2C","c":"IL-7","s":"Unstimulated cells","x":2,"y":1},{"g":"Naïve 2C","c":"IL-7","s":"Unstimulated cells","x":12,"y":3},{"g":"Naïve 2C","c":"IL-7","s":"Unstimulated cells","x":20,"y":10},{"g":"Naïve 2C","c":"IL-7","s":"Unstimulated cells","x":27,"y":30},{"g":"Naïve 2C","c":"IL-7","s":"Unstimulated cells","x":31,"y":60},{"g":"Naïve 2C","c":"IL-7","s":"Unstimulated cells","x":33,"y":85},{"g":"Naïve 2C","c":"IL-7","s":"Unstimulated cells","x":36,"y":92},{"g":"Naïve 2C","c":"IL-7","s":"Unstimulated cells","x":39,"y":75},{"g":"Naïve 2C","c":"IL-7","s":"Unstimulated cells","x":41,"y":40},{"g":"Naïve 2C","c":"IL-7","s":"Unstimulated cells","x":43,"y":15},{"g":"Naïve 2C","c":"IL-7","s":"Unstimulated cells","x":46,"y":4},{"g":"Naïve 2C","c":"IL-7","s":"Unstimulated cells","x":51,"y":1},{"g":"Naïve 2C","c":"IL-7","s":"Unstimulated cells","x":100,"y":0.5},
{"g":"TRP-SIY prostate","c":"IL-15","s":"Unstimulated cells","x":0,"y":9},{"g":"TRP-SIY prostate","c":"IL-15","s":"Unstimulated cells","x":1,"y":8},{"g":"TRP-SIY prostate","c":"IL-15","s":"Unstimulated cells","x":8,"y":11},{"g":"TRP-SIY prostate","c":"IL-15","s":"Unstimulated cells","x":16,"y":16},{"g":"TRP-SIY prostate","c":"IL-15","s":"Unstimulated cells","x":22,"y":32},{"g":"TRP-SIY prostate","c":"IL-15","s":"Unstimulated cells","x":27,"y":62},{"g":"TRP-SIY prostate","c":"IL-15","s":"Unstimulated cells","x":30,"y":85},{"g":"TRP-SIY prostate","c":"IL-15","s":"Unstimulated cells","x":32,"y":93},{"g":"TRP-SIY prostate","c":"IL-15","s":"Unstimulated cells","x":36,"y":92},{"g":"TRP-SIY prostate","c":"IL-15","s":"Unstimulated cells","x":40,"y":62},{"g":"TRP-SIY prostate","c":"IL-15","s":"Unstimulated cells","x":43,"y":32},{"g":"TRP-SIY prostate","c":"IL-15","s":"Unstimulated cells","x":47,"y":14},{"g":"TRP-SIY prostate","c":"IL-15","s":"Unstimulated cells","x":51,"y":5},{"g":"TRP-SIY prostate","c":"IL-15","s":"Unstimulated cells","x":57,"y":2},{"g":"TRP-SIY prostate","c":"IL-15","s":"Unstimulated cells","x":65,"y":1},{"g":"TRP-SIY prostate","c":"IL-15","s":"Unstimulated cells","x":100,"y":0.5},
{"g":"TRP-SIY prostate","c":"IL-7","s":"Unstimulated cells","x":0,"y":8},{"g":"TRP-SIY prostate","c":"IL-7","s":"Unstimulated cells","x":1,"y":7},{"g":"TRP-SIY prostate","c":"IL-7","s":"Unstimulated cells","x":8,"y":10},{"g":"TRP-SIY prostate","c":"IL-7","s":"Unstimulated cells","x":14,"y":16},{"g":"TRP-SIY prostate","c":"IL-7","s":"Unstimulated cells","x":20,"y":27},{"g":"TRP-SIY prostate","c":"IL-7","s":"Unstimulated cells","x":27,"y":55},{"g":"TRP-SIY prostate","c":"IL-7","s":"Unstimulated cells","x":31,"y":80},{"g":"TRP-SIY prostate","c":"IL-7","s":"Unstimulated cells","x":33,"y":92},{"g":"TRP-SIY prostate","c":"IL-7","s":"Unstimulated cells","x":36,"y":90},{"g":"TRP-SIY prostate","c":"IL-7","s":"Unstimulated cells","x":39,"y":80},{"g":"TRP-SIY prostate","c":"IL-7","s":"Unstimulated cells","x":42,"y":45},{"g":"TRP-SIY prostate","c":"IL-7","s":"Unstimulated cells","x":45,"y":18},{"g":"TRP-SIY prostate","c":"IL-7","s":"Unstimulated cells","x":49,"y":5},{"g":"TRP-SIY prostate","c":"IL-7","s":"Unstimulated cells","x":55,"y":2},{"g":"TRP-SIY prostate","c":"IL-7","s":"Unstimulated cells","x":63,"y":1},{"g":"TRP-SIY prostate","c":"IL-7","s":"Unstimulated cells","x":100,"y":0.5},
{"g":"Naïve 2C","c":"IL-15","s":"Stimulated cells","x":0,"y":1},{"g":"Naïve 2C","c":"IL-15","s":"Stimulated cells","x":13,"y":1},{"g":"Naïve 2C","c":"IL-15","s":"Stimulated cells","x":25,"y":4},{"g":"Naïve 2C","c":"IL-15","s":"Stimulated cells","x":32,"y":15},{"g":"Naïve 2C","c":"IL-15","s":"Stimulated cells","x":37,"y":40},{"g":"Naïve 2C","c":"IL-15","s":"Stimulated cells","x":41,"y":75},{"g":"Naïve 2C","c":"IL-15","s":"Stimulated cells","x":44,"y":88},{"g":"Naïve 2C","c":"IL-15","s":"Stimulated cells","x":46,"y":93},{"g":"Naïve 2C","c":"IL-15","s":"Stimulated cells","x":49,"y":80},{"g":"Naïve 2C","c":"IL-15","s":"Stimulated cells","x":52,"y":70},{"g":"Naïve 2C","c":"IL-15","s":"Stimulated cells","x":56,"y":65},{"g":"Naïve 2C","c":"IL-15","s":"Stimulated cells","x":59,"y":55},{"g":"Naïve 2C","c":"IL-15","s":"Stimulated cells","x":62,"y":35},{"g":"Naïve 2C","c":"IL-15","s":"Stimulated cells","x":66,"y":15},{"g":"Naïve 2C","c":"IL-15","s":"Stimulated cells","x":70,"y":3},{"g":"Naïve 2C","c":"IL-15","s":"Stimulated cells","x":77,"y":0.5},{"g":"Naïve 2C","c":"IL-15","s":"Stimulated cells","x":100,"y":0.5},
{"g":"Naïve 2C","c":"IL-7","s":"Stimulated cells","x":0,"y":1},{"g":"Naïve 2C","c":"IL-7","s":"Stimulated cells","x":16,"y":1},{"g":"Naïve 2C","c":"IL-7","s":"Stimulated cells","x":29,"y":5},{"g":"Naïve 2C","c":"IL-7","s":"Stimulated cells","x":35,"y":15},{"g":"Naïve 2C","c":"IL-7","s":"Stimulated cells","x":39,"y":40},{"g":"Naïve 2C","c":"IL-7","s":"Stimulated cells","x":42,"y":75},{"g":"Naïve 2C","c":"IL-7","s":"Stimulated cells","x":45,"y":93},{"g":"Naïve 2C","c":"IL-7","s":"Stimulated cells","x":47,"y":80},{"g":"Naïve 2C","c":"IL-7","s":"Stimulated cells","x":50,"y":45},{"g":"Naïve 2C","c":"IL-7","s":"Stimulated cells","x":53,"y":15},{"g":"Naïve 2C","c":"IL-7","s":"Stimulated cells","x":57,"y":4},{"g":"Naïve 2C","c":"IL-7","s":"Stimulated cells","x":65,"y":1},{"g":"Naïve 2C","c":"IL-7","s":"Stimulated cells","x":100,"y":0.5},
{"g":"TRP-SIY prostate","c":"IL-15","s":"Stimulated cells","x":0,"y":10},{"g":"TRP-SIY prostate","c":"IL-15","s":"Stimulated cells","x":1,"y":8},{"g":"TRP-SIY prostate","c":"IL-15","s":"Stimulated cells","x":8,"y":10},{"g":"TRP-SIY prostate","c":"IL-15","s":"Stimulated cells","x":16,"y":15},{"g":"TRP-SIY prostate","c":"IL-15","s":"Stimulated cells","x":22,"y":30},{"g":"TRP-SIY prostate","c":"IL-15","s":"Stimulated cells","x":27,"y":60},{"g":"TRP-SIY prostate","c":"IL-15","s":"Stimulated cells","x":31,"y":85},{"g":"TRP-SIY prostate","c":"IL-15","s":"Stimulated cells","x":33,"y":95},{"g":"TRP-SIY prostate","c":"IL-15","s":"Stimulated cells","x":37,"y":90},{"g":"TRP-SIY prostate","c":"IL-15","s":"Stimulated cells","x":41,"y":60},{"g":"TRP-SIY prostate","c":"IL-15","s":"Stimulated cells","x":44,"y":30},{"g":"TRP-SIY prostate","c":"IL-15","s":"Stimulated cells","x":47,"y":15},{"g":"TRP-SIY prostate","c":"IL-15","s":"Stimulated cells","x":51,"y":6},{"g":"TRP-SIY prostate","c":"IL-15","s":"Stimulated cells","x":57,"y":2},{"g":"TRP-SIY prostate","c":"IL-15","s":"Stimulated cells","x":65,"y":1},{"g":"TRP-SIY prostate","c":"IL-15","s":"Stimulated cells","x":100,"y":0.5},
{"g":"TRP-SIY prostate","c":"IL-7","s":"Stimulated cells","x":0,"y":8},{"g":"TRP-SIY prostate","c":"IL-7","s":"Stimulated cells","x":1,"y":8},{"g":"TRP-SIY prostate","c":"IL-7","s":"Stimulated cells","x":8,"y":10},{"g":"TRP-SIY prostate","c":"IL-7","s":"Stimulated cells","x":14,"y":15},{"g":"TRP-SIY prostate","c":"IL-7","s":"Stimulated cells","x":20,"y":25},{"g":"TRP-SIY prostate","c":"IL-7","s":"Stimulated cells","x":27,"y":50},{"g":"TRP-SIY prostate","c":"IL-7","s":"Stimulated cells","x":31,"y":75},{"g":"TRP-SIY prostate","c":"IL-7","s":"Stimulated cells","x":34,"y":90},{"g":"TRP-SIY prostate","c":"IL-7","s":"Stimulated cells","x":37,"y":96},{"g":"TRP-SIY prostate","c":"IL-7","s":"Stimulated cells","x":40,"y":85},{"g":"TRP-SIY prostate","c":"IL-7","s":"Stimulated cells","x":42,"y":50},{"g":"TRP-SIY prostate","c":"IL-7","s":"Stimulated cells","x":45,"y":20},{"g":"TRP-SIY prostate","c":"IL-7","s":"Stimulated cells","x":49,"y":6},{"g":"TRP-SIY prostate","c":"IL-7","s":"Stimulated cells","x":55,"y":2},{"g":"TRP-SIY prostate","c":"IL-7","s":"Stimulated cells","x":63,"y":1},{"g":"TRP-SIY prostate","c":"IL-7","s":"Stimulated cells","x":100,"y":0.5}
]
},
"spacing": 26,
"hconcat": [
 {
  "spacing": 8,
  "vconcat": [
   {
    "width": 320, "height": 32,
    "view": {"stroke": null},
    "data": {"values": [
      {"label": "Naïve 2C", "host": "none", "antigen": "SIY"},
      {"label": "B6", "host": "B6", "antigen": "none"},
      {"label": "B6-SIY", "host": "B6", "antigen": "SIY"},
      {"label": "TRAMP", "host": "TRAMP", "antigen": "none"},
      {"label": "TRP-SIY", "host": "TRAMP", "antigen": "SIY"}
    ]},
    "encoding": {
      "x": {"field": "host", "type": "nominal", "scale": {"type": "point", "domain": ["none", "B6", "TRAMP"], "padding": 0.882}, "axis": null},
      "y": {"field": "antigen", "type": "nominal", "scale": {"type": "point", "domain": ["none", "SIY"], "padding": 0.4}, "axis": null}
    },
    "layer": [
      {"mark": {"type": "point", "shape": "square", "filled": true, "size": 110, "stroke": "#555555", "strokeWidth": 1, "opacity": 1},
       "encoding": {"color": {"field": "label", "type": "nominal", "legend": null,
         "scale": {"domain": ["Naïve 2C", "B6", "B6-SIY", "TRAMP", "TRP-SIY", "Stimulated cells", "Unstimulated cells"], "range": ["#9a9a9a", "#66bb46", "#f7941d", "#2e49a8", "#e41f26", "#111111", "#9a9a9a"]}}}},
      {"mark": {"type": "text", "align": "left", "baseline": "middle", "dx": 9, "fontSize": 14.5},
       "encoding": {"text": {"field": "label"}}}
    ]
   },
   {
    "spacing": 7,
    "vconcat": [
     {
      "spacing": 4,
      "hconcat": [
       {"width": 14, "height": 50, "view": {"stroke": null},
        "data": {"values": [{"panel": "A"}]},
        "mark": {"type": "text", "fontSize": 19, "fontWeight": "bold", "baseline": "middle"},
        "encoding": {"text": {"field": "panel"}}},
       {
        "data": {"name": "hA"},
        "facet": {
          "row": {"field": "r", "type": "ordinal", "title": null, "header": {"labels": false}},
          "column": {"field": "t", "type": "nominal", "title": null, "sort": ["Prostate", "Spleen", "PDLN", "Lung"],
            "header": {"labelFontSize": 17, "labelPadding": 3}}
        },
        "spacing": {"row": 4, "column": 1},
        "title": {"text": "IL-7Rα", "orient": "bottom", "anchor": "middle", "offset": 3, "frame": "bounds", "fontSize": 17},
        "spec": {
          "width": 83, "height": 82,
          "encoding": {
            "x": {"field": "x", "type": "quantitative", "scale": {"domain": [0, 100], "nice": false, "zero": false}, "axis": null},
            "y": {"field": "y", "type": "quantitative", "scale": {"domain": [-1, 103], "nice": false, "zero": false}, "axis": null}
          },
          "layer": [
            {"transform": [{"filter": "datum.s == 'Naïve 2C'"}], "mark": {"type": "area", "interpolate": "monotone", "color": "#9a9a9a"}},
            {"transform": [{"filter": "datum.s != 'Naïve 2C'"}], "mark": {"type": "line", "interpolate": "monotone", "strokeWidth": 1.6},
             "encoding": {"color": {"field": "s", "type": "nominal", "legend": null,
               "scale": {"domain": ["Naïve 2C", "B6", "B6-SIY", "TRAMP", "TRP-SIY", "Stimulated cells", "Unstimulated cells"], "range": ["#9a9a9a", "#66bb46", "#f7941d", "#2e49a8", "#e41f26", "#111111", "#9a9a9a"]}}}}
          ]
        }
       }
      ]
     },
     {
      "spacing": 4,
      "hconcat": [
       {"width": 14, "height": 12, "view": {"stroke": null},
        "data": {"values": [{"panel": "B"}]},
        "mark": {"type": "text", "fontSize": 19, "fontWeight": "bold", "baseline": "middle"},
        "encoding": {"text": {"field": "panel"}}},
       {
        "data": {"name": "hB"},
        "facet": {
          "row": {"field": "r", "type": "ordinal", "title": null, "header": {"labels": false}},
          "column": {"field": "t", "type": "nominal", "title": null, "sort": ["Prostate", "Spleen", "PDLN", "Lung"],
            "header": {"labels": false}}
        },
        "spacing": {"row": 10, "column": 1},
        "title": {"text": "IL-15Rβ", "orient": "bottom", "anchor": "middle", "offset": 1, "frame": "bounds", "fontSize": 17},
        "spec": {
          "width": 83, "height": 82,
          "encoding": {
            "x": {"field": "x", "type": "quantitative", "scale": {"domain": [0, 100], "nice": false, "zero": false}, "axis": null},
            "y": {"field": "y", "type": "quantitative", "scale": {"domain": [-1, 103], "nice": false, "zero": false}, "axis": null}
          },
          "layer": [
            {"transform": [{"filter": "datum.s == 'Naïve 2C'"}], "mark": {"type": "area", "interpolate": "monotone", "color": "#9a9a9a"}},
            {"transform": [{"filter": "datum.s != 'Naïve 2C'"}], "mark": {"type": "line", "interpolate": "monotone", "strokeWidth": 1.6},
             "encoding": {"color": {"field": "s", "type": "nominal", "legend": null,
               "scale": {"domain": ["Naïve 2C", "B6", "B6-SIY", "TRAMP", "TRP-SIY", "Stimulated cells", "Unstimulated cells"], "range": ["#9a9a9a", "#66bb46", "#f7941d", "#2e49a8", "#e41f26", "#111111", "#9a9a9a"]}}}}
          ]
        }
       }
      ]
     }
    ]
   }
  ]
 },
 {
  "spacing": 50,
  "vconcat": [
   {
    "spacing": 0,
    "vconcat": [
     {
      "spacing": 5,
      "hconcat": [
        {"width": 12, "height": 15, "view": {"stroke": null},
         "data": {"values": [{"panel": "C"}]},
         "mark": {"type": "text", "fontSize": 18, "fontWeight": "bold", "baseline": "middle"},
         "encoding": {"text": {"field": "panel"}}},
        {"width": 230, "height": 40, "view": {"stroke": null},
         "data": {"values": [{"cond": "Stimulated cells"}, {"cond": "Unstimulated cells"}]},
         "encoding": {"x": {"field": "cond", "type": "nominal", "scale": {"type": "point", "padding": 0.4}, "axis": null}},
         "layer": [
           {"mark": {"type": "point", "shape": "square", "filled": true, "size": 180, "stroke": "#333333", "strokeWidth": 1, "opacity": 1},
            "encoding": {"color": {"field": "cond", "type": "nominal", "legend": null,
              "scale": {"domain": ["Naïve 2C", "B6", "B6-SIY", "TRAMP", "TRP-SIY", "Stimulated cells", "Unstimulated cells"], "range": ["#9a9a9a", "#66bb46", "#f7941d", "#2e49a8", "#e41f26", "#111111", "#9a9a9a"]}}}},
           {"mark": {"type": "text", "align": "left", "baseline": "middle", "dx": 10, "fontSize": 14.5},
            "encoding": {"text": {"field": "cond"}}}
         ]}
      ]
     },
     {
      "spacing": 12,
      "title": {"text": "pStat5", "orient": "bottom", "anchor": "middle", "offset": 2, "fontSize": 17},
      "hconcat": [
       {
        "spacing": 4,
        "vconcat": [
         {"width": 171, "height": 30, "view": {"stroke": null},
          "data": {"values": [{"grp": "Naïve 2C"}]},
          "mark": {"type": "text", "fontSize": 17.5, "baseline": "middle"},
          "encoding": {
            "x": {"field": "grp", "type": "nominal", "axis": {"title": null, "labels": false, "ticks": false, "domainColor": "#222222", "domainWidth": 1.3}},
            "text": {"field": "grp"}}},
         {"data": {"name": "hC"},
          "transform": [{"filter": "datum.g == 'Naïve 2C'"}],
          "facet": {"column": {"field": "c", "type": "nominal", "title": null, "sort": ["IL-15", "IL-7"], "header": {"labelFontSize": 17, "labelPadding": 3}}},
          "spacing": {"column": 1},
          "spec": {
            "width": 81, "height": 82,
            "mark": {"type": "line", "interpolate": "monotone"},
            "encoding": {
              "x": {"field": "x", "type": "quantitative", "scale": {"domain": [0, 100], "nice": false, "zero": false}, "axis": null},
              "y": {"field": "y", "type": "quantitative", "scale": {"domain": [-1, 103], "nice": false, "zero": false}, "axis": null},
              "color": {"field": "s", "type": "nominal", "legend": null,
                "scale": {"domain": ["Naïve 2C", "B6", "B6-SIY", "TRAMP", "TRP-SIY", "Stimulated cells", "Unstimulated cells"], "range": ["#9a9a9a", "#66bb46", "#f7941d", "#2e49a8", "#e41f26", "#111111", "#9a9a9a"]}},
              "strokeWidth": {"field": "s", "type": "ordinal", "legend": null, "scale": {"domain": ["Stimulated cells", "Unstimulated cells"], "range": [2.2, 1.3]}}
            }
          }}
        ]
       },
       {
        "spacing": 4,
        "vconcat": [
         {"width": 171, "height": 30, "view": {"stroke": null},
          "data": {"values": [{"grp": "TRP-SIY prostate"}]},
          "mark": {"type": "text", "fontSize": 17.5, "baseline": "middle"},
          "encoding": {
            "x": {"field": "grp", "type": "nominal", "axis": {"title": null, "labels": false, "ticks": false, "domainColor": "#222222", "domainWidth": 1.3}},
            "text": {"field": "grp"}}},
         {"data": {"name": "hC"},
          "transform": [{"filter": "datum.g == 'TRP-SIY prostate'"}],
          "facet": {"column": {"field": "c", "type": "nominal", "title": null, "sort": ["IL-15", "IL-7"], "header": {"labelFontSize": 17, "labelPadding": 3}}},
          "spacing": {"column": 1},
          "spec": {
            "width": 81, "height": 82,
            "mark": {"type": "line", "interpolate": "monotone"},
            "encoding": {
              "x": {"field": "x", "type": "quantitative", "scale": {"domain": [0, 100], "nice": false, "zero": false}, "axis": null},
              "y": {"field": "y", "type": "quantitative", "scale": {"domain": [-1, 103], "nice": false, "zero": false}, "axis": null},
              "color": {"field": "s", "type": "nominal", "legend": null,
                "scale": {"domain": ["Naïve 2C", "B6", "B6-SIY", "TRAMP", "TRP-SIY", "Stimulated cells", "Unstimulated cells"], "range": ["#9a9a9a", "#66bb46", "#f7941d", "#2e49a8", "#e41f26", "#111111", "#9a9a9a"]}},
              "strokeWidth": {"field": "s", "type": "ordinal", "legend": null, "scale": {"domain": ["Stimulated cells", "Unstimulated cells"], "range": [2.2, 1.3]}}
            }
          }}
        ]
       }
      ]
     }
    ]
   },
   {
    "spacing": 12,
    "hconcat": [
     {"width": 12, "height": 1, "view": {"stroke": null},
      "title": {"text": "D", "anchor": "start", "offset": 3, "fontSize": 18, "fontWeight": "bold"},
      "data": {"values": [{"panel": "D"}]},
      "mark": {"type": "text"},
      "encoding": {"text": {"value": ""}}},
     {
      "spacing": 5,
      "hconcat": [
       {
        "width": 120, "height": 119,
        "view": {"stroke": null},
        "title": {"text": "IL-15", "offset": -10, "frame": "group", "fontSize": 17.5},
        "data": {"values": [
          {"tissue": "Bone Marrow", "mrna": 366, "lo": 266, "hi": 468},
          {"tissue": "TRAMP Prostate", "mrna": 0},
          {"tissue": "TRP-SIY Prostate", "mrna": 0}
        ]},
        "encoding": {
          "x": {"field": "tissue", "type": "nominal", "sort": null, "scale": {"paddingInner": 0.6, "paddingOuter": 0.3},
            "axis": {"title": null, "labelAngle": -45, "labelExpr": "split(datum.label, ' ')", "labelFontSize": 13.5, "labelLineHeight": 14, "tickBand": "extent", "domainColor": "#c8c8c8", "tickColor": "#c8c8c8", "tickSize": 5, "labelPadding": 2}}
        },
        "layer": [
          {"mark": {"type": "bar", "color": "#8c8c8c"},
           "encoding": {"y": {"field": "mrna", "type": "quantitative", "title": "Relative mRNA level", "scale": {"domain": [0, 500], "nice": false},
             "axis": {"values": [0, 100, 200, 300, 400, 500], "labelExpr": "datum.value % 200 == 0 ? datum.label : ''", "labelFontSize": 15, "titleFontSize": 16.5, "titlePadding": 2, "domainColor": "#c8c8c8", "tickColor": "#c8c8c8", "tickSize": 4, "grid": false, "labelPadding": 2}}}},
          {"mark": {"type": "rule", "color": "#a0a0a0", "strokeWidth": 1},
           "encoding": {"y": {"field": "lo", "type": "quantitative", "title": "Relative mRNA level"}, "y2": {"field": "hi"}}}
        ]
       },
       {
        "width": 120, "height": 119,
        "view": {"stroke": null},
        "title": {"text": "IL-7", "offset": 7, "frame": "group", "fontSize": 17.5},
        "data": {"values": [
          {"tissue": "Bone Marrow", "mrna": 165, "lo": 163, "hi": 167},
          {"tissue": "TRAMP Prostate", "mrna": 0},
          {"tissue": "TRP-SIY Prostate", "mrna": 0}
        ]},
        "encoding": {
          "x": {"field": "tissue", "type": "nominal", "sort": null, "scale": {"paddingInner": 0.6, "paddingOuter": 0.3},
            "axis": {"title": null, "labelAngle": -45, "labelExpr": "split(datum.label, ' ')", "labelFontSize": 13.5, "labelLineHeight": 14, "tickBand": "extent", "domainColor": "#c8c8c8", "tickColor": "#c8c8c8", "tickSize": 5, "labelPadding": 2}}
        },
        "layer": [
          {"mark": {"type": "bar", "color": "#c9c9c9"},
           "encoding": {"y": {"field": "mrna", "type": "quantitative", "title": null, "scale": {"domain": [0, 200], "nice": false},
             "axis": {"values": [0, 40, 80, 120, 160, 200], "labelExpr": "datum.value % 80 == 0 ? datum.label : ''", "labelFontSize": 15, "domainColor": "#c8c8c8", "tickColor": "#c8c8c8", "tickSize": 4, "grid": false, "labelPadding": 2}}}},
          {"mark": {"type": "rule", "color": "#333333", "strokeWidth": 1},
           "encoding": {"y": {"field": "lo", "type": "quantitative", "title": null}, "y2": {"field": "hi"}}}
        ]
       }
      ]
     }
    ]
   }
  ]
 }
]
}
